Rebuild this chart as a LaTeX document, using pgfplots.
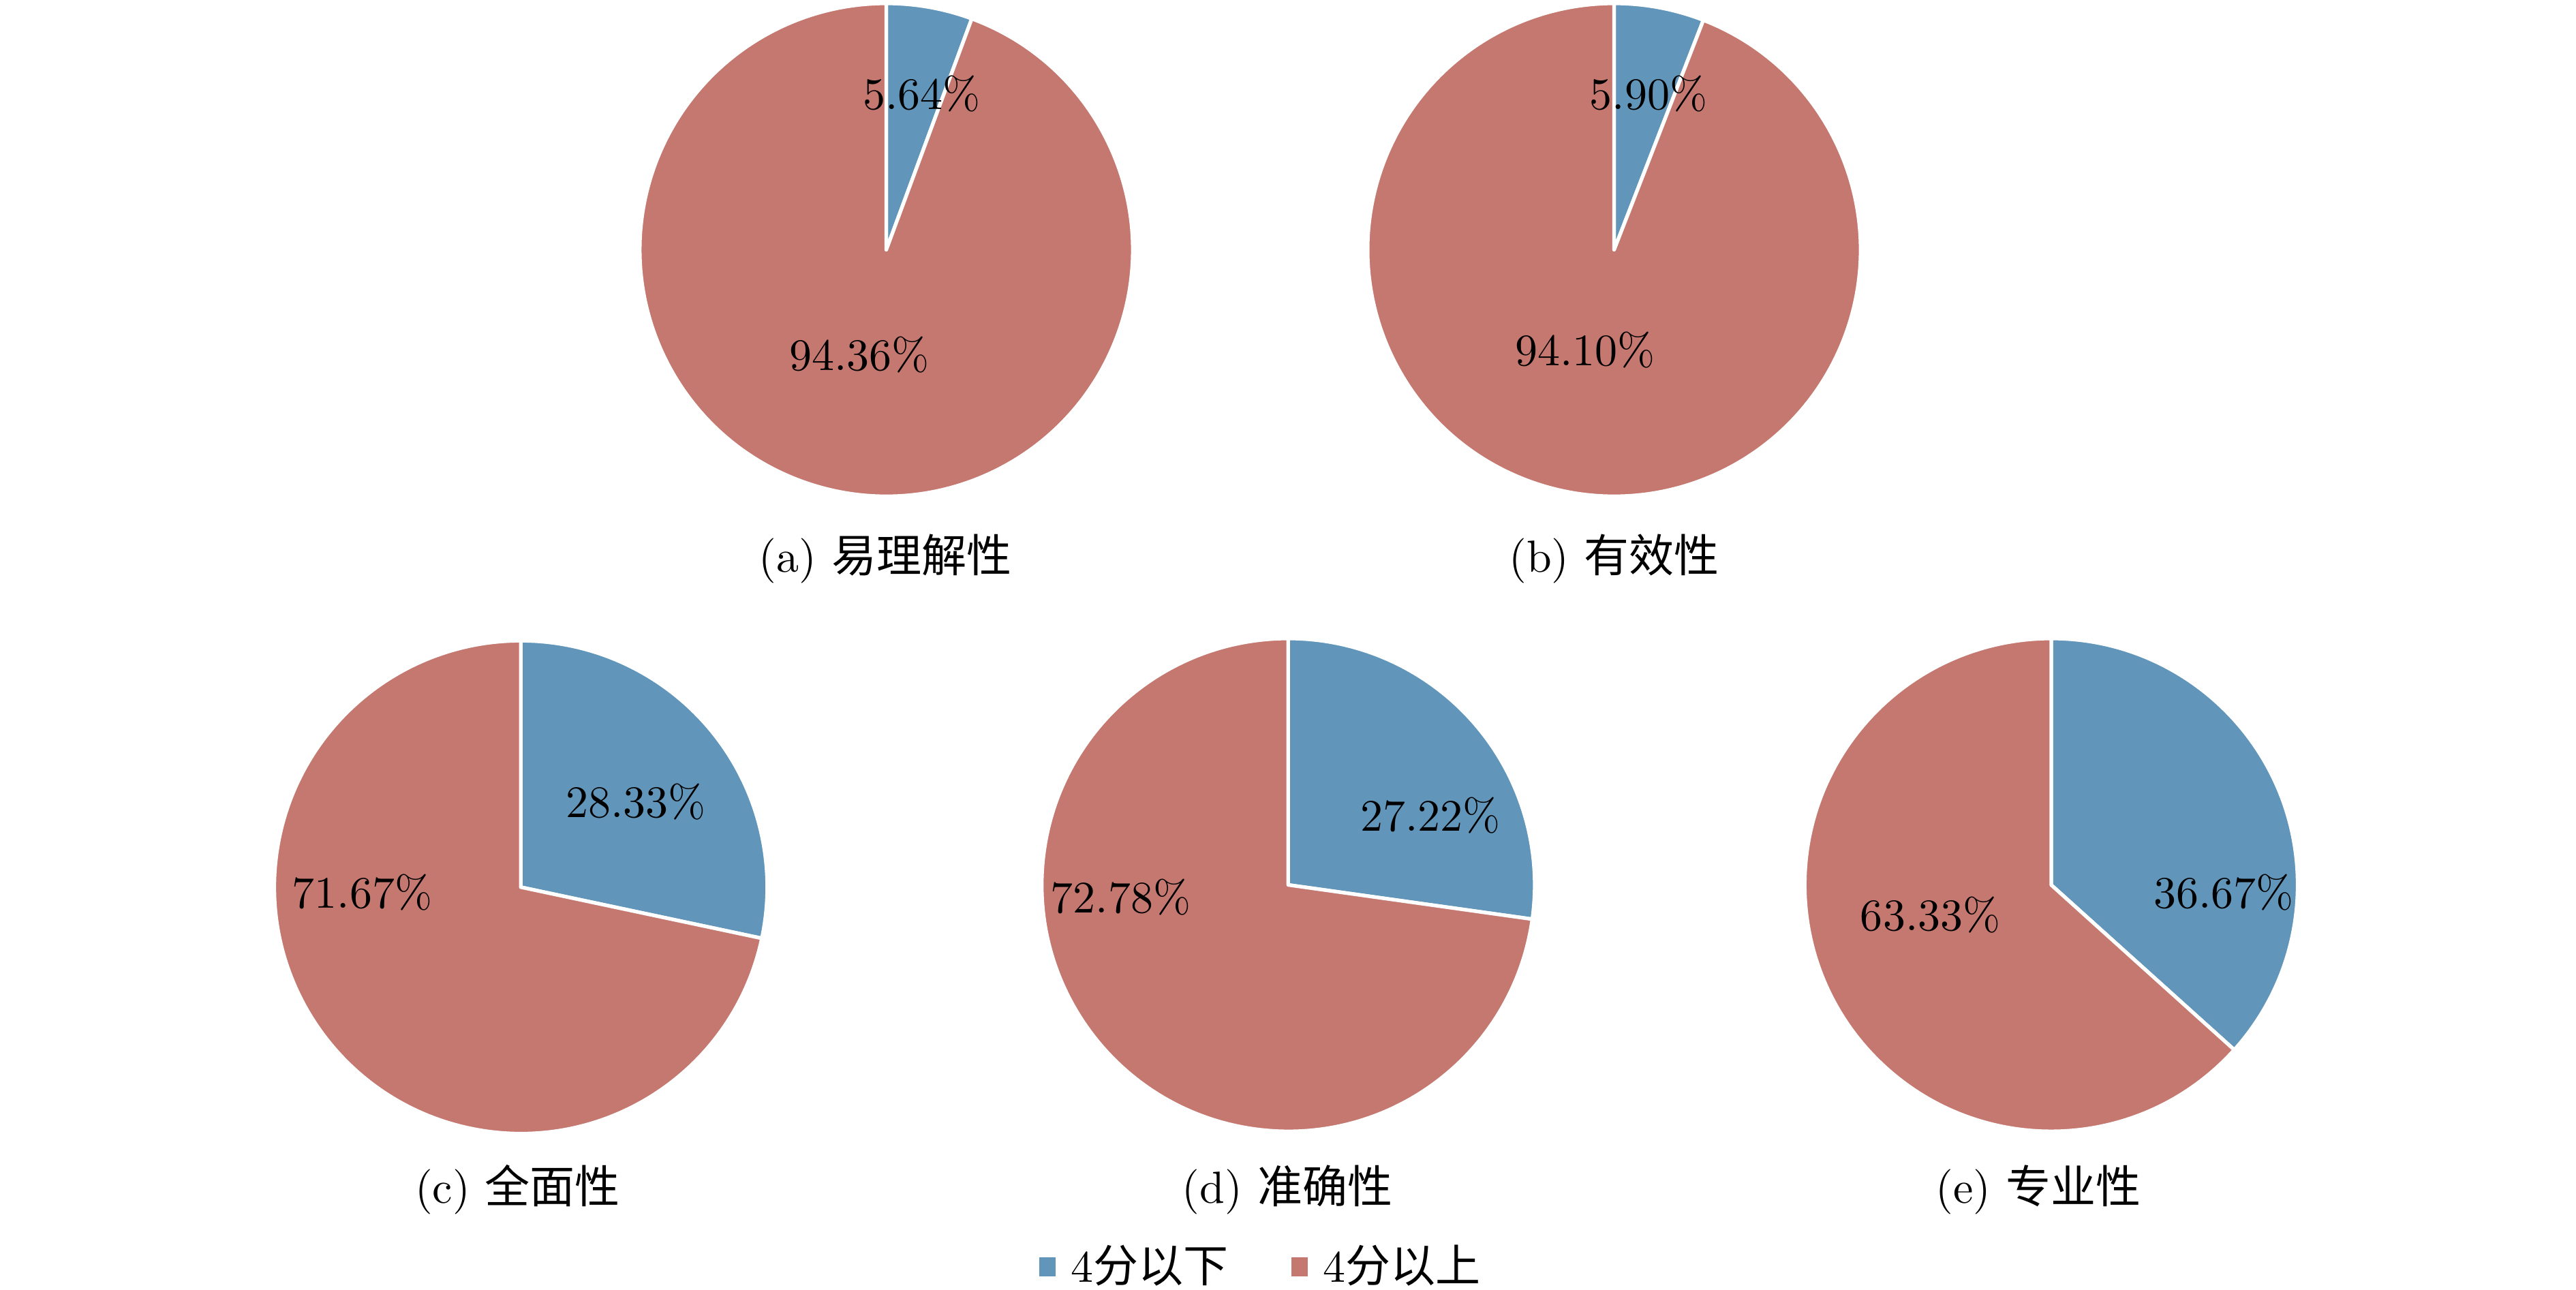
\documentclass[border=0pt]{standalone}
\usepackage{fontspec}
\usepackage{pgfplots}
\pgfplotsset{compat=1.18}
\newfontfamily\cjk{Noto Sans CJK SC}
\definecolor{pieblue}{RGB}{97,150,186}
\definecolor{piered}{RGB}{197,120,112}
% pie values (percent): first = 4分以下, second = 4分以上
\newcommand{\slices}[2]{%
  \fill[pieblue, draw=white, line width=0.8pt, line join=round]
    (axis cs:0,0) -- (axis cs:0,1) arc[start angle=90, delta angle={-3.6*#1}, radius=1] -- cycle;
  \fill[piered, draw=white, line width=0.8pt, line join=round]
    (axis cs:0,0) -- ({axis cs:{cos(90-3.6*#1)},{sin(90-3.6*#1)}}) arc[start angle={90-3.6*#1}, delta angle={-3.6*#2}, radius=1] -- cycle;
}
\pgfplotsset{
  pieaxis/.style={
    scale only axis, width=109.5pt, height=109.5pt,
    xmin=-1, xmax=1, ymin=-1, ymax=1, disabledatascaling,
    hide axis, clip=false, anchor=center,
  },
}
\begin{document}
\begin{tikzpicture}
\useasboundingbox (0,0) rectangle (572.3pt,-286.5pt);
% (a)
\begin{axis}[pieaxis, at={(196.9pt,-55.5pt)}]
  \slices{5.64}{94.36}
  \node at (axis cs:0.143,0.633) {5.64\%};
  \node at (axis cs:-0.11,-0.427) {94.36\%};
\end{axis}
% (b)
\begin{axis}[pieaxis, at={(358.6pt,-55.5pt)}]
  \slices{5.90}{94.10}
  \node at (axis cs:0.14,0.633) {5.90\%};
  \node at (axis cs:-0.117,-0.407) {94.10\%};
\end{axis}
% (c)
\begin{axis}[pieaxis, at={(115.7pt,-197.1pt)}]
  \slices{28.33}{71.67}
  \node at (axis cs:0.467,0.347) {28.33\%};
  \node at (axis cs:-0.643,-0.02) {71.67\%};
\end{axis}
% (d)
\begin{axis}[pieaxis, at={(286.2pt,-196.6pt)},
  legend columns=2,
  legend style={at={(rel axis cs:0.452,-0.275)}, anchor=center, draw=none, fill=none,
    /tikz/every even column/.append style={column sep=12pt}},
  legend image code/.code={\fill[#1] (0pt,-1.9pt) rectangle (3.2pt,1.9pt); \path (4.6pt,0pt);}]
  \addlegendimage{pieblue}
  \addlegendentry{4{\cjk 分以下}}
  \addlegendimage{piered}
  \addlegendentry{4{\cjk 分以上}}
  \slices{27.22}{72.78}
  \node at (axis cs:0.577,0.283) {27.22\%};
  \node at (axis cs:-0.68,-0.05) {72.78\%};
\end{axis}
% (e)
\begin{axis}[pieaxis, at={(455.7pt,-196.6pt)}]
  \slices{36.67}{63.33}
  \node at (axis cs:0.70,-0.03) {36.67\%};
  \node at (axis cs:-0.49,-0.123) {63.33\%};
\end{axis}
% captions
\node at (196.7pt,-124.1pt) {(a) {\cjk 易理解性}};
\node at (358.6pt,-124.1pt) {(b) {\cjk 有效性}};
\node at (115.0pt,-264.3pt) {(c) {\cjk 全面性}};
\node at (286.0pt,-264.3pt) {(d) {\cjk 准确性}};
\node at (452.8pt,-264.3pt) {(e) {\cjk 专业性}};
\end{tikzpicture}
\end{document}
